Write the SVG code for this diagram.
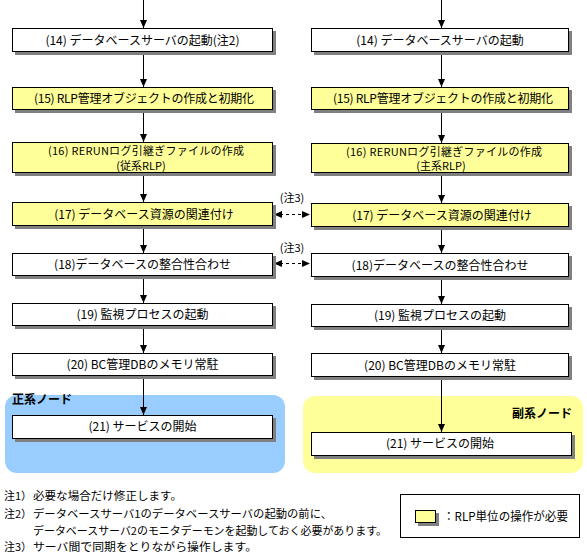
<svg xmlns="http://www.w3.org/2000/svg" width="587" height="559" viewBox="0 0 587 559">
<defs>
<style>
text{font-family:"Noto Sans CJK JP","Liberation Sans",sans-serif;font-size:12px;fill:#000}
.c{text-anchor:middle}
.s{font-size:11px}
.b{font-weight:bold;font-size:12px}
.box{stroke:#000;stroke-width:1}
.w{fill:#fff}
.y{fill:#ffff99}
.sh{fill:#808080}
.ln{stroke:#000;stroke-width:1;fill:none}
.dash{stroke:#000;stroke-width:1;fill:none;stroke-dasharray:3 3}
</style>
<marker id="ah" viewBox="0 0 8 8" refX="8" refY="4" markerWidth="8" markerHeight="8" markerUnits="userSpaceOnUse" orient="auto">
<path d="M0,0.5 L8,4 L0,7.5 Z" fill="#000"/>
</marker>
<marker id="ahs" viewBox="0 0 8 8" refX="8" refY="4" markerWidth="8" markerHeight="8" markerUnits="userSpaceOnUse" orient="auto-start-reverse">
<path d="M0,0.5 L8,4 L0,7.5 Z" fill="#000"/>
</marker>
</defs>
<rect width="587" height="559" fill="#fff"/>

<g id="region-primary">
<rect x="5" y="395" width="280" height="78" rx="12" fill="#99ccff"/>
<text x="12" y="404" class="b">正系ノード</text>
</g>
<g id="region-secondary">
<rect x="303" y="396" width="280" height="77" rx="12" fill="#ffff99"/>
<text x="572" y="418" class="b" text-anchor="end">副系ノード</text>
</g>

<g id="connectors">
<line class="ln" x1="143.5" y1="0" x2="143.5" y2="28" marker-end="url(#ah)"/>
<line class="ln" x1="143.5" y1="52" x2="143.5" y2="87" marker-end="url(#ah)"/>
<line class="ln" x1="143.5" y1="110" x2="143.5" y2="142" marker-end="url(#ah)"/>
<line class="ln" x1="143.5" y1="173" x2="143.5" y2="202" marker-end="url(#ah)"/>
<line class="ln" x1="143.5" y1="226" x2="143.5" y2="253" marker-end="url(#ah)"/>
<line class="ln" x1="143.5" y1="276" x2="143.5" y2="303" marker-end="url(#ah)"/>
<line class="ln" x1="143.5" y1="326" x2="143.5" y2="353" marker-end="url(#ah)"/>
<line class="ln" x1="143.5" y1="376" x2="143.5" y2="415" marker-end="url(#ah)"/>

<line class="ln" x1="441.5" y1="0" x2="441.5" y2="28" marker-end="url(#ah)"/>
<line class="ln" x1="441.5" y1="52" x2="441.5" y2="87" marker-end="url(#ah)"/>
<line class="ln" x1="441.5" y1="110" x2="441.5" y2="143" marker-end="url(#ah)"/>
<line class="ln" x1="441.5" y1="173" x2="441.5" y2="203" marker-end="url(#ah)"/>
<line class="ln" x1="441.5" y1="227" x2="441.5" y2="253" marker-end="url(#ah)"/>
<line class="ln" x1="441.5" y1="277" x2="441.5" y2="304" marker-end="url(#ah)"/>
<line class="ln" x1="441.5" y1="327" x2="441.5" y2="353" marker-end="url(#ah)"/>
<line class="ln" x1="441.5" y1="377" x2="441.5" y2="432" marker-end="url(#ah)"/>

<line class="dash" x1="274" y1="214.5" x2="310" y2="214.5" marker-start="url(#ahs)" marker-end="url(#ah)"/>
<text x="292" y="202" class="c s">(注3)</text>
<line class="dash" x1="274" y1="263.5" x2="310" y2="263.5" marker-start="url(#ahs)" marker-end="url(#ah)"/>
<text x="292" y="252" class="c s">(注3)</text>
</g>

<g id="L14"><rect class="sh" x="15" y="31" width="261" height="24"/><rect class="box w" x="12.5" y="28.5" width="260" height="23"/><text x="142.5" y="44.5" class="c">(14) データベースサーバの起動(注2)</text></g>
<g id="L15"><rect class="sh" x="15" y="90" width="261" height="23"/><rect class="box y" x="12.5" y="87.5" width="260" height="22"/><text x="144" y="103" class="c" textLength="220" lengthAdjust="spacing">(15) RLP管理オブジェクトの作成と初期化</text></g>
<g id="L16"><rect class="sh" x="15" y="145" width="261" height="31"/><rect class="box y" x="12.5" y="142.5" width="260" height="30"/><text x="146" y="155" class="c s" textLength="196" lengthAdjust="spacing">(16) RERUNログ引継ぎファイルの作成</text><text x="141" y="170" class="c s">(従系RLP)</text></g>
<g id="L17"><rect class="sh" x="15" y="205" width="261" height="24"/><rect class="box y" x="12.5" y="202.5" width="260" height="23"/><text x="144" y="218.5" class="c">(17) データベース資源の関連付け</text></g>
<g id="L18"><rect class="sh" x="15" y="256" width="261" height="23"/><rect class="box w" x="12.5" y="253.5" width="260" height="22"/><text x="142.5" y="269" class="c">(18)データベースの整合性合わせ</text></g>
<g id="L19"><rect class="sh" x="15" y="306" width="261" height="23"/><rect class="box w" x="12.5" y="303.5" width="260" height="22"/><text x="142.5" y="319" class="c">(19) 監視プロセスの起動</text></g>
<g id="L20"><rect class="sh" x="15" y="356" width="261" height="23"/><rect class="box w" x="12.5" y="353.5" width="260" height="22"/><text x="142.5" y="369" class="c">(20) BC管理DBのメモリ常駐</text></g>
<g id="L21"><rect class="sh" x="15" y="418" width="261" height="24"/><rect class="box w" x="12.5" y="415.5" width="260" height="23"/><text x="142.5" y="431" class="c">(21) サービスの開始</text></g>

<g id="R14"><rect class="sh" x="314" y="31" width="258" height="24"/><rect class="box w" x="311.5" y="28.5" width="257" height="23"/><text x="440" y="44.5" class="c">(14) データベースサーバの起動</text></g>
<g id="R15"><rect class="sh" x="314" y="90" width="258" height="23"/><rect class="box y" x="311.5" y="87.5" width="257" height="22"/><text x="443" y="103" class="c" textLength="220" lengthAdjust="spacing">(15) RLP管理オブジェクトの作成と初期化</text></g>
<g id="R16"><rect class="sh" x="314" y="146" width="258" height="30"/><rect class="box y" x="311.5" y="143.5" width="257" height="29"/><text x="444" y="155.5" class="c s" textLength="196" lengthAdjust="spacing">(16) RERUNログ引継ぎファイルの作成</text><text x="441" y="170" class="c s">(主系RLP)</text></g>
<g id="R17"><rect class="sh" x="314" y="206" width="258" height="24"/><rect class="box y" x="311.5" y="203.5" width="257" height="23"/><text x="442" y="219.5" class="c">(17) データベース資源の関連付け</text></g>
<g id="R18"><rect class="sh" x="314" y="256" width="258" height="24"/><rect class="box w" x="311.5" y="253.5" width="257" height="23"/><text x="440" y="269.5" class="c">(18)データベースの整合性合わせ</text></g>
<g id="R19"><rect class="sh" x="314" y="307" width="258" height="23"/><rect class="box w" x="311.5" y="304.5" width="257" height="22"/><text x="440" y="320" class="c">(19) 監視プロセスの起動</text></g>
<g id="R20"><rect class="sh" x="314" y="356" width="258" height="24"/><rect class="box w" x="311.5" y="353.5" width="257" height="23"/><text x="440" y="369.5" class="c">(20) BC管理DBのメモリ常駐</text></g>
<g id="R21"><rect class="sh" x="314" y="435" width="261" height="24"/><rect class="box w" x="311.5" y="432.5" width="260" height="23"/><text x="440" y="448" class="c">(21) サービスの開始</text></g>

<g id="notes">
<text x="4" y="500" class="s">注1）</text>
<text x="33" y="500" class="s" textLength="149" lengthAdjust="spacingAndGlyphs">必要な場合だけ修正します。</text>
<text x="4" y="518" class="s">注2）</text>
<text x="33" y="518" class="s" textLength="299" lengthAdjust="spacingAndGlyphs">データベースサーバ1のデータベースサーバの起動の前に、</text>
<text x="33" y="534.5" class="s" textLength="354" lengthAdjust="spacingAndGlyphs">データベースサーバ2のモニタデーモンを起動しておく必要があります。</text>
<text x="4" y="551" class="s">注3）</text>
<text x="33" y="551" class="s" textLength="224" lengthAdjust="spacingAndGlyphs">サーバ間で同期をとりながら操作します。</text>
</g>

<g id="legend">
<rect x="400.5" y="494.5" width="179" height="43" fill="#fff" stroke="#000"/>
<rect class="sh" x="418" y="513" width="21" height="13"/>
<rect class="box y" x="415.5" y="510.5" width="20" height="12"/>
<text x="443" y="521" textLength="125" lengthAdjust="spacingAndGlyphs">：RLP単位の操作が必要</text>
</g>
</svg>
